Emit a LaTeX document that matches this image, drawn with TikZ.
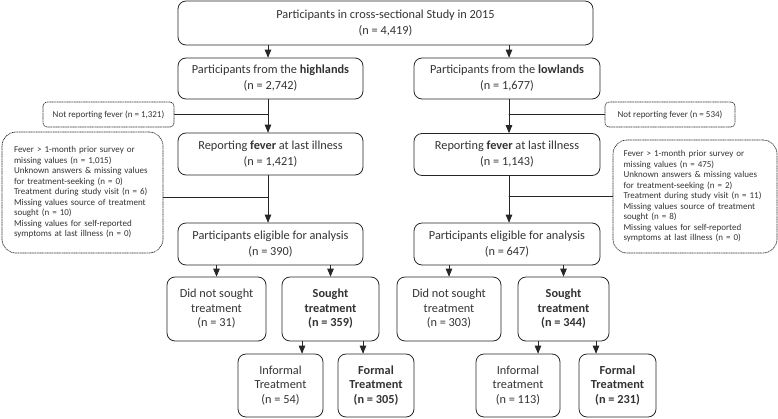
\documentclass[tikz,border=0pt]{standalone}
\usepackage{fontspec}
\setmainfont{Carlito}
\usetikzlibrary{arrows}

\begin{document}
\begin{tikzpicture}[line cap=round,line join=round,>=triangle 45,x=1pt,y=-1pt,
  every node/.style={text=black!80},
  flowbox/.style={draw=black!85,line width=0.8pt,rounded corners=8pt,align=center,inner sep=2pt,font=\fontsize{12.3}{16}\selectfont},
  leafbox/.style={flowbox,font=\fontsize{12.3}{14.5}\selectfont,minimum height=64pt},
  boldleaf/.style={leafbox,font=\fontsize{12.3}{14.5}\selectfont\bfseries},
  notebox/.style={draw=black!85,densely dotted,line width=0.7pt,rounded corners=4pt,inner sep=2pt,font=\fontsize{9}{10.5}\selectfont},
  exclbox/.style={notebox,rounded corners=14pt,align=left,text width=137pt}]
\useasboundingbox (0,0) rectangle (778,418);
\coordinate (trunkh) at (268,0);
\coordinate (trunkl) at (509,0);
\node [flowbox,minimum width=415,minimum height=44] (study) at (385.5,23) {Participants in cross-sectional Study in 2015\\(n = 4,419)};
\node [flowbox,minimum width=185,minimum height=41] (high) at (270.5,78.5) {Participants from the \textbf{highlands}\\(n = 2,742)};
\node [flowbox,minimum width=186,minimum height=41] (low) at (507,78.5) {Participants from the \textbf{lowlands}\\(n = 1,677)};
\node [notebox,minimum width=131,minimum height=25] (nofevh) at (108.5,114.5) {Not reporting fever (n = 1,321)};
\node [notebox,minimum width=130,minimum height=25] (nofevl) at (670,114.5) {Not reporting fever (n = 534)};
\node [flowbox,minimum width=185,minimum height=42] (fevh) at (270.5,154) {Reporting \textbf{fever} at last illness\\(n = 1,421)};
\node [flowbox,minimum width=186,minimum height=42] (fevl) at (507,154.5) {Reporting \textbf{fever} at last illness\\(n = 1,143)};
\node [exclbox,minimum width=161,minimum height=121] (exclh) at (82.5,192.5) {Fever > 1-month prior survey or\\missing values (n = 1,015)\\Unknown answers \& missing values\\for treatment-seeking (n = 0)\\Treatment during study visit (n = 6)\\Missing values source of treatment\\sought (n = 10)\\Missing values for self-reported\\symptoms at last illness (n = 0)};
\node [exclbox,text width=143pt,minimum width=164,minimum height=113] (excll) at (695,196.5) {Fever > 1-month prior survey or\\missing values (n = 475)\\Unknown answers \& missing values\\for treatment-seeking (n = 2)\\Treatment during study visit (n = 11)\\Missing values source of treatment\\sought (n = 8)\\Missing values for self-reported\\symptoms at last illness (n = 0)};
\node [flowbox,minimum width=185,minimum height=42] (eligh) at (270.5,244) {Participants eligible for analysis\\(n = 390)};
\node [flowbox,minimum width=186,minimum height=42] (eligl) at (507,244) {Participants eligible for analysis\\(n = 647)};
\node [leafbox,minimum width=99] (nosoughth) at (216.5,309) {Did not sought\\treatment\\(n = 31)};
\node [boldleaf,minimum width=97] (soughth) at (330.5,309) {Sought\\treatment\\(n = 359)};
\node [leafbox,minimum width=104] (nosoughtl) at (449,309) {Did not sought\\treatment\\(n = 303)};
\node [boldleaf,minimum width=91] (soughtl) at (563.5,309) {Sought\\treatment\\(n = 344)};
\node [leafbox,minimum width=85,minimum height=63] (informh) at (280.5,385.5) {Informal\\Treatment\\(n = 54)};
\node [boldleaf,minimum width=76,minimum height=63] (formh) at (376,385.5) {Formal\\Treatment\\(n = 305)};
\node [leafbox,minimum width=84,minimum height=63] (informl) at (518,385.5) {Informal\\treatment\\(n = 113)};
\node [boldleaf,minimum width=77,minimum height=63] (forml) at (617.5,385.5) {Formal\\Treatment\\(n = 231)};
% trunks
\draw [->,draw=black!85,line width=0.8pt] (study.south -| trunkh) -- (high.north -| trunkh);
\draw [->,draw=black!85,line width=0.8pt] (study.south -| trunkl) -- (low.north -| trunkl);
\draw [->,draw=black!85,line width=0.8pt] (high.south -| trunkh) -- (fevh.north -| trunkh);
\draw [->,draw=black!85,line width=0.8pt] (low.south -| trunkl) -- (fevl.north -| trunkl);
\draw [->,draw=black!85,line width=0.8pt] (fevh.south -| trunkh) -- (eligh.north -| trunkh);
\draw [->,draw=black!85,line width=0.8pt] (fevl.south -| trunkl) -- (eligl.north -| trunkl);
% exclusions
\coordinate (cuth) at (268,197);
\draw [draw=black!85,line width=0.8pt] (nofevh.east) -- (nofevh.east -| trunkh);
\draw [draw=black!85,line width=0.8pt] (nofevl.west) -- (nofevl.west -| trunkl);
\draw [draw=black!85,line width=0.8pt] (cuth -| exclh.east) -- (cuth);
\draw [draw=black!85,line width=0.8pt] (excll.west) -- (excll.west -| trunkl);
% split
\draw [->,draw=black!85,line width=0.8pt] (eligh.south -| nosoughth.north) -- (nosoughth.north);
\draw [->,draw=black!85,line width=0.8pt] (eligh.south -| soughth.north) -- (soughth.north);
\draw [->,draw=black!85,line width=0.8pt] (eligl.south -| nosoughtl.north) -- (nosoughtl.north);
\draw [->,draw=black!85,line width=0.8pt] (eligl.south -| soughtl.north) -- (soughtl.north);
\draw [->,draw=black!85,line width=0.8pt] ([xshift=-28.5pt]soughth.south) -- ([xshift=-28.5pt]soughth.south |- informh.north);
\draw [->,draw=black!85,line width=0.8pt] ([xshift=32.5pt]soughth.south) -- ([xshift=32.5pt]soughth.south |- formh.north);
\draw [->,draw=black!85,line width=0.8pt] ([xshift=-25.5pt]soughtl.south) -- ([xshift=-25.5pt]soughtl.south |- informl.north);
\draw [->,draw=black!85,line width=0.8pt] ([xshift=32.5pt]soughtl.south) -- ([xshift=32.5pt]soughtl.south |- forml.north);
\end{tikzpicture}
\end{document}
